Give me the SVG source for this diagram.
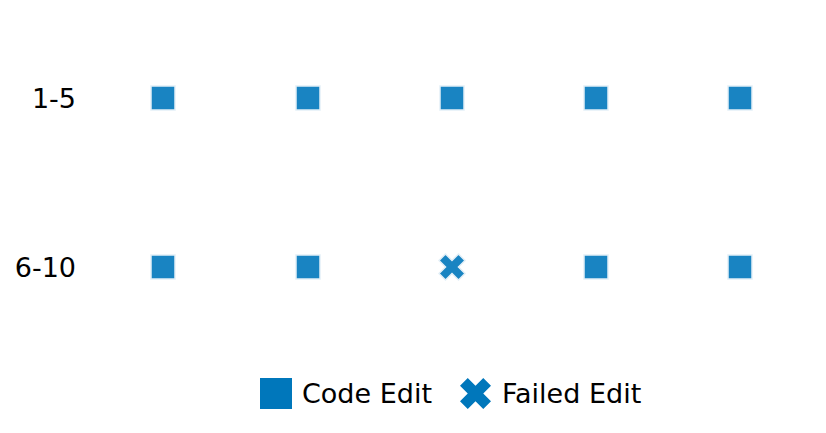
<svg xmlns="http://www.w3.org/2000/svg" width="826" height="433" viewBox="0 0 826 433">
<style>
.lbl{font-family:"DejaVu Sans",sans-serif;font-size:27px;fill:#000}
.leg{font-family:"DejaVu Sans",sans-serif;font-size:27px;fill:#000}
.sq{fill:#0077bb;fill-opacity:0.9;stroke:#e3eff7;stroke-width:1.5}
.xm{fill:#0077bb;fill-opacity:0.9;stroke:#e3eff7;stroke-width:1.5}
.legm{fill:#0077bb}
</style>
<defs>
<rect id="sqm" x="-12" y="-12" width="24" height="24"/>
<path id="xmk" d="M-6.5,-13 L0,-6.5 L6.5,-13 L13,-6.5 L6.5,0 L13,6.5 L6.5,13 L0,6.5 L-6.5,13 L-13,6.5 L-6.5,0 L-13,-6.5Z"/>
</defs>
<rect width="826" height="433" fill="#fff"/>
<g id="labels">
<text class="lbl" x="76" y="107.5" text-anchor="end">1-5</text>
<text class="lbl" x="76" y="276.5" text-anchor="end">6-10</text>
</g>
<g id="connectors"></g>
<g id="row1">
<g id="n1"><use href="#sqm" class="sq" x="163" y="98"/></g>
<g id="n2"><use href="#sqm" class="sq" x="308" y="98"/></g>
<g id="n3"><use href="#sqm" class="sq" x="452" y="98"/></g>
<g id="n4"><use href="#sqm" class="sq" x="596" y="98"/></g>
<g id="n5"><use href="#sqm" class="sq" x="740" y="98"/></g>
</g>
<g id="row2">
<g id="n6"><use href="#sqm" class="sq" x="163" y="267"/></g>
<g id="n7"><use href="#sqm" class="sq" x="308" y="267"/></g>
<g id="n8"><use href="#xmk" class="xm" x="452" y="267"/></g>
<g id="n9"><use href="#sqm" class="sq" x="596" y="267"/></g>
<g id="n10"><use href="#sqm" class="sq" x="740" y="267"/></g>
</g>
<g id="legend">
<rect class="legm" x="260" y="378" width="32" height="31"/>
<text class="leg" x="302" y="403">Code Edit</text>
<path class="legm" transform="translate(475.5,393.5)" d="M-7.75,-15.5 L0,-7.75 L7.75,-15.5 L15.5,-7.75 L7.75,0 L15.5,7.75 L7.75,15.5 L0,7.75 L-7.75,15.5 L-15.5,7.75 L-7.75,0 L-15.5,-7.75Z"/>
<text class="leg" x="502" y="403">Failed Edit</text>
</g>
</svg>
